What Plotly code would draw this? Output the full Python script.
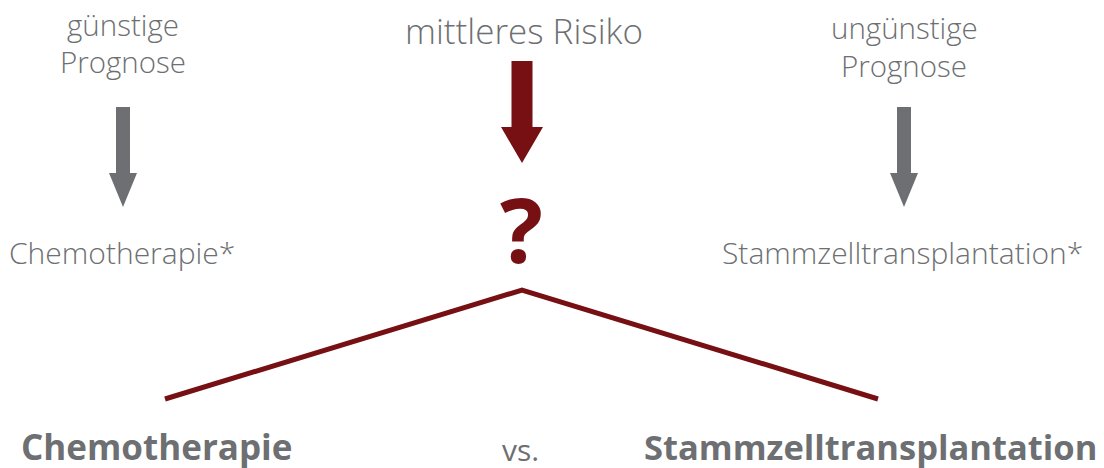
import plotly.graph_objects as go

W, H = 1104, 468
OFF = 8  # page body margin in the browser
RED = "#761013"
GRAY = "#6d6f72"
FONT = "Open Sans"

# top labels (one line each): text, x center, y center, size
top_labels = ["günstige", "Prognose", "mittleres Risiko", "ungünstige", "Prognose"]
top_x = [123, 123, 524, 904, 904]
top_y = [24, 61, 30, 27, 65]
top_size = [29.5, 29.5, 35, 29.5, 29.5]

# arrows: x center, top y, shaft bottom y, tip y, shaft half width, head half width, color
arrow_x = [123, 522, 904]
arrow_top = [107, 61, 107]
arrow_neck = [173, 127, 173]
arrow_tip = [207, 163, 207]
arrow_shaft = [7, 10.5, 7]
arrow_head = [14, 21, 14]
arrow_col = [GRAY, RED, GRAY]

mid_labels = ["Chemotherapie*", "Stammzelltransplantation*"]
mid_x = [122, 902]
mid_y = [252, 252]

bottom_labels = ["<b>Chemotherapie</b>", "vs.", "<b>Stammzelltransplantation</b>"]
bottom_x = [156, 520, 870]
bottom_y = [446, 449, 446]
bottom_size = [35, 30, 34.5]

fork_x = [165, 522, 878]
fork_y = [399, 290, 399]

fig = go.Figure()
fig.add_trace(go.Scatter(x=fork_x, y=fork_y, mode="lines",
                         line=dict(color=RED, width=5), hoverinfo="skip"))

shapes = []
for x, t, n, tip, s, h, c in zip(arrow_x, arrow_top, arrow_neck, arrow_tip,
                                 arrow_shaft, arrow_head, arrow_col):
    path = (f"M {x-s},{t} L {x+s},{t} L {x+s},{n} L {x+h},{n} L {x},{tip} "
            f"L {x-h},{n} L {x-s},{n} Z")
    shapes.append(dict(type="path", path=path, xref="x", yref="y",
                       fillcolor=c, line=dict(width=0)))

ann = []
for t, x, y, s in zip(top_labels, top_x, top_y, top_size):
    ann.append(dict(text=t, x=x, y=y, showarrow=False, xref="x", yref="y",
                    borderpad=0,
                    font=dict(family=FONT, size=s, color=GRAY, weight=300)))
for t, x, y in zip(mid_labels, mid_x, mid_y):
    ann.append(dict(text=t, x=x, y=y, showarrow=False, xref="x", yref="y",
                    font=dict(family=FONT, size=30, color=GRAY, weight=300)))
for t, x, y, s in zip(bottom_labels, bottom_x, bottom_y, bottom_size):
    ann.append(dict(text=t, x=x, y=y, showarrow=False, xref="x", yref="y",
                    font=dict(family=FONT, size=s, color=GRAY)))
ann.append(dict(text="<b>?</b>", x=521, y=228, showarrow=False, xref="x", yref="y",
                font=dict(family=FONT, size=90, color=RED)))

fig.update_layout(
    width=W, height=H, margin=dict(l=0, r=0, t=0, b=0),
    paper_bgcolor="white", plot_bgcolor="white", showlegend=False,
    xaxis=dict(range=[OFF, W + OFF], visible=False, fixedrange=True),
    yaxis=dict(range=[H + OFF, OFF], visible=False, fixedrange=True),
    shapes=shapes, annotations=ann,
)
fig.write_html("out.html", config={"displayModeBar": False})
